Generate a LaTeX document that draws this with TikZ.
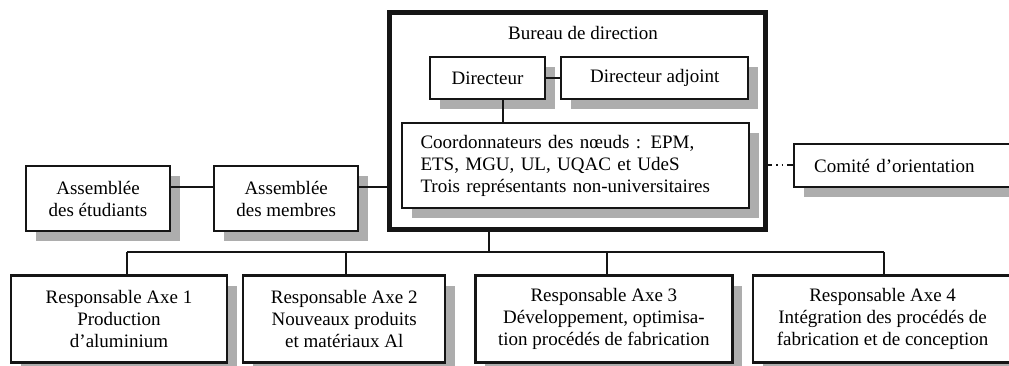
\documentclass[tikz,border=0pt]{standalone}
\usepackage{fontspec}
\setmainfont{Liberation Serif}
\usetikzlibrary{positioning,shadows,calc}
\definecolor{InkBlack}{HTML}{151515}
\definecolor{ShadowGray}{HTML}{ADADAD}
\tikzset{
  OB/.style={rectangle,draw=InkBlack,line width=2.2pt,fill=white,
             inner sep=0pt,text centered,align=center,
             font=\fontsize{19}{22}\selectfont,
             drop shadow={shadow xshift=10pt,shadow yshift=-10pt,
                          fill=ShadowGray,opacity=1}},
  BB/.style={rectangle,draw=InkBlack,line width=5pt,fill=white,inner sep=0pt},
  ln/.style={draw=InkBlack,line width=2pt},
  dd/.style={ln,dash pattern=on 4pt off 4pt on 1.5pt off 4pt on 1.5pt off 4pt on 8pt}
}
\begin{document}
\begin{tikzpicture}[x=1pt,y=-1pt]
  \useasboundingbox (0,0) rectangle (1009,366);
  \clip (0,0) rectangle (1009,366);
  % bureau de direction
  \node[BB,minimum width=376pt,minimum height=217pt] (bureau) at (577.5,121) {};
  \node[font=\fontsize{19}{22}\selectfont] (bdtitle) at (583,33) {Bureau de direction};
  \node[OB,minimum width=115pt,minimum height=42pt] (dir) at (487.5,78) {Directeur};
  \node[OB,minimum width=187pt,minimum height=42pt,right=14pt of dir] (adj) {Directeur adjoint};
  \node[OB,minimum width=347pt,minimum height=85pt,text width=310pt,
        align=left,inner xsep=18pt] (coord) at (575.5,165.5)
       {Coordonnateurs des nœuds : EPM,\\ETS, MGU, UL, UQAC et UdeS\\Trois représentants non-universitaires};
  % assemblees et comite
  \node[OB,minimum width=144pt,minimum height=65pt] (etud) at (98,198.5) {Assemblée\\des étudiants};
  \node[OB,minimum width=144pt,minimum height=65pt,right=42pt of etud] (memb) {Assemblée\\des membres};
  \node[OB,anchor=west,minimum height=43pt,text width=200pt,align=left,
        inner xsep=20pt] (comite) at (793,165.5) {Comité d’orientation};
  % axes
  \node[OB,minimum width=216pt,minimum height=87pt] (ax1) at (119,319)
       {Responsable Axe 1\\Production\\d’aluminium};
  \node[OB,minimum width=202pt,minimum height=87pt,right=14pt of ax1] (ax2)
       {Responsable Axe 2\\Nouveaux produits\\et matériaux Al};
  \node[OB,minimum width=257pt,minimum height=87pt,right=28pt of ax2] (ax3)
       {Responsable Axe 3\\Développement, optimisa-\\tion procédés de fabrication};
  \node[OB,minimum width=260pt,minimum height=87pt,right=18pt of ax3] (ax4)
       {Responsable Axe 4\\Intégration des procédés de\\fabrication et de conception};
  % liens
  \draw[ln] (dir) -- (adj);
  \draw[ln] ([xshift=15.5pt]dir.south) -- ([xshift=15.5pt]dir.south |- coord.north);
  \draw[ln] ([yshift=11.5pt]etud.east) -- ([yshift=11.5pt]etud.east -| memb.west);
  \draw[ln] ([yshift=11.5pt]memb.east) -- ([yshift=11.5pt]memb.east -| bureau.west);
  \draw[dd] (bureau.east |- comite.west) -- (comite.west);
  \coordinate (bus) at (489,252);
  \draw[ln] (bureau.south -| bus) -- (bus);
  \draw[ln] ([xshift=8pt]ax1.north |- bus) -- ([xshift=1pt]ax4.north |- bus);
  \foreach \n/\dx in {ax1/8,ax2/2,ax3/3.5,ax4/1}
    \draw[ln] ([xshift=\dx pt]\n.north |- bus) -- ([xshift=\dx pt]\n.north);
\end{tikzpicture}
\end{document}
